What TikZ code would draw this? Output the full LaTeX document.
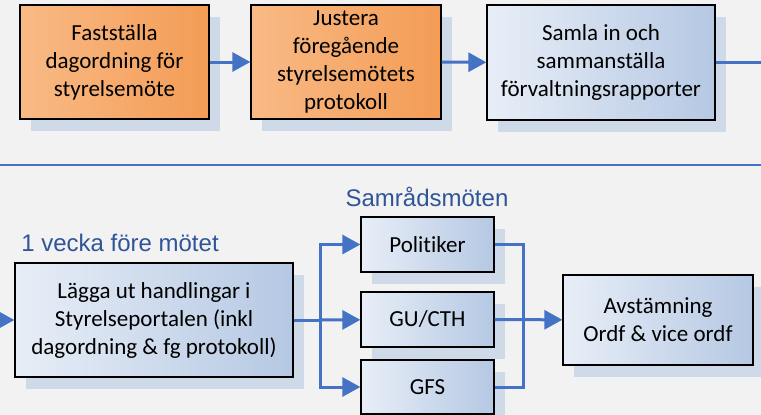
\documentclass[tikz,border=0pt]{standalone}
\usepackage{fontspec}
\setmainfont{Carlito}[Ligatures=NoCommon]
\newfontfamily\labelfont{Liberation Sans}
\usetikzlibrary{arrows.meta,shadows}
\definecolor{bgrey}{HTML}{F2F2F2}
\definecolor{orangelight}{HTML}{F9BA86}
\definecolor{orangedark}{HTML}{F39C55}
\definecolor{bluelight}{HTML}{E8EEF7}
\definecolor{bluedark}{HTML}{B5C8E3}
\definecolor{shadowblue}{HTML}{CFDAE9}
\definecolor{flowblue}{HTML}{4472C4}
\definecolor{labelblue}{HTML}{2F5597}
\tikzset{
  box/.style={draw=black, line width=1.3pt, align=center, inner sep=0pt,
    font=\fontsize{23}{28}\selectfont,
    drop shadow={shadow xshift=11pt, shadow yshift=-12pt, fill=shadowblue, opacity=1}},
  orangebox/.style={box, left color=orangelight, right color=orangedark},
  bluebox/.style={box, left color=bluelight, right color=bluedark},
  conn/.style={line width=3pt, draw=flowblue},
  flow/.style={conn, -{Triangle[length=18pt,width=19pt]}},
  steplabel/.style={font=\labelfont\fontsize{24}{28}\selectfont, text=labelblue}
}
\begin{document}
\begin{tikzpicture}[x=1pt,y=-1pt]
	\fill[bgrey] (0,0) rectangle (761,415);
	\useasboundingbox (0,0) rectangle (761,415);
	%Rad 1
	\node[orangebox, minimum width=189pt, minimum height=114pt] (fast) at (114.5,62) {Fastställa\\dagordning för\\styrelsemöte};
	\node[orangebox, minimum width=190pt, minimum height=114pt] (just) at (346,62) {Justera\\föregående\\styrelsemötets\\protokoll};
	\node[bluebox, minimum width=228pt, minimum height=115pt] (samla) at (601,62.5) {Samla in och\\sammanställa\\förvaltningsrapporter};
	\coordinate (ut) at (765,62.5);
	\draw[flow] (fast) -- (just);
	\draw[flow] (just) -- (samla);
	\draw[conn] (samla.east) -- (ut);
	%Avdelare
	\draw[conn, line width=2pt] (0,165) -- (761,165);
	%Rad 2
	\node[steplabel] (vecka) at (120,243) {1 vecka före mötet};
	\node[steplabel] (samrad) at (427,197) {Samrådsmöten};
	\node[bluebox, minimum width=278pt, minimum height=114pt] (lagga) at (154,320) {Lägga ut handlingar i\\Styrelseportalen (inkl\\dagordning \& fg protokoll)};
	\node[bluebox, minimum width=133pt, minimum height=55pt] (pol) at (427.5,244.5) {Politiker};
	\node[bluebox, minimum width=133pt, minimum height=55pt] (gu) at (427.5,319.5) {GU/CTH};
	\node[bluebox, minimum width=133pt, minimum height=54pt] (gfs) at (427.5,387) {GFS};
	\node[bluebox, minimum width=190pt, minimum height=90pt] (avst) at (658,320) {Avstämning\\Ordf \& vice ordf};
	\coordinate (in) at (-5,320);
	\coordinate (split) at (320,320);
	\coordinate (join) at (523,320);
	\draw[flow] (in) -- (lagga);
	\draw[conn] (lagga.east) -- (split);
	\draw[flow] (split) |- (pol);
	\draw[flow] (split) -- (gu);
	\draw[flow] (split) |- (gfs);
	\draw[conn] (pol.east) -| (join);
	\draw[conn] (gfs.east) -| (join);
	\draw[flow] (gu) -- (avst);
\end{tikzpicture}
\end{document}
